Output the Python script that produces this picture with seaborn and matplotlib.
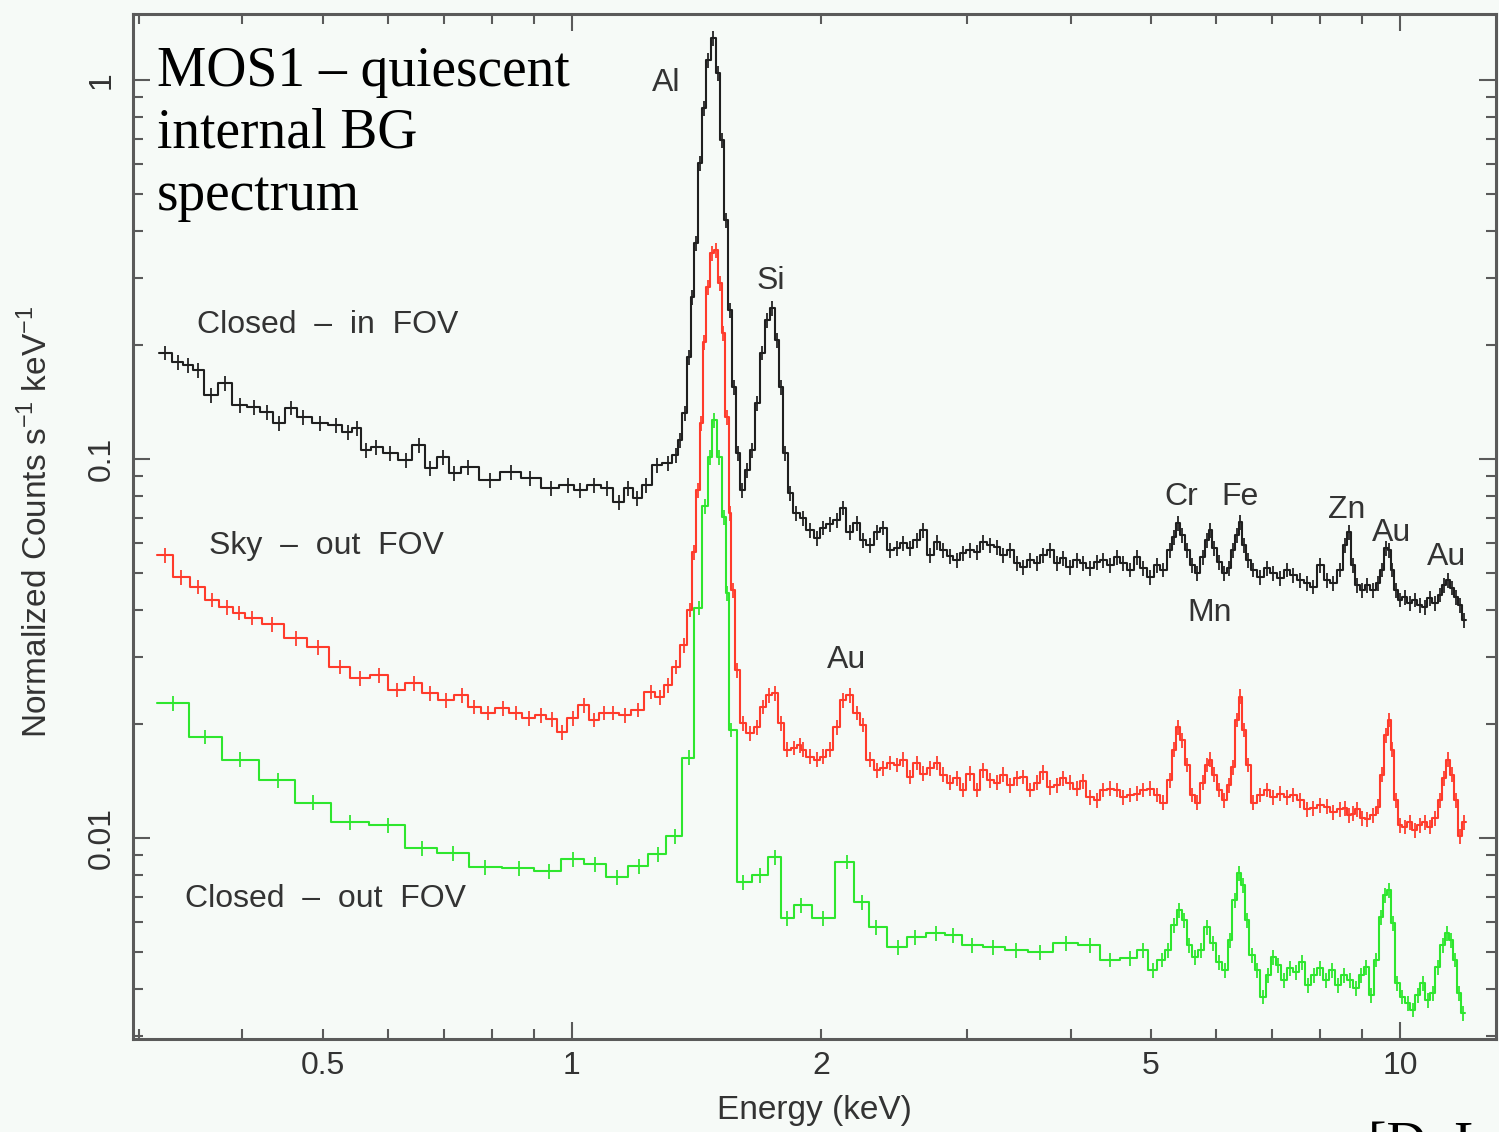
import numpy as np
import pandas as pd
import matplotlib
matplotlib.use("Agg")
import matplotlib.pyplot as plt
import seaborn as sns
from matplotlib.ticker import LogLocator, FuncFormatter, NullFormatter

# ---------------- data ----------------
# shared fine energy grid (keV, bin centres) used by the two upper spectra above ~1.9 keV
energy_hi = [1.901, 1.938, 1.977, 2.010, 2.049, 2.089, 2.125, 2.166, 2.209, 2.246,
             2.290, 2.336, 2.375, 2.422, 2.469, 2.511, 2.560, 2.610, 2.654, 2.707,
             2.760, 2.806, 2.861, 2.917, 2.966, 3.025, 3.084, 3.136, 3.198, 3.261,
             3.316, 3.381, 3.448, 3.506, 3.575, 3.645, 3.706, 3.779, 3.854, 3.917,
             3.994, 4.073, 4.141, 4.223, 4.307, 4.379, 4.465, 4.553, 4.630, 4.720,
             4.814, 4.894, 4.991, 5.088, 5.175, 5.276, 5.335, 5.395, 5.455, 5.532,
             5.609, 5.687, 5.783, 5.848, 5.897, 5.963, 6.046, 6.131, 6.216, 6.286,
             6.356, 6.409, 6.481, 6.553, 6.645, 6.776, 6.909, 7.025, 7.163, 7.304,
             7.427, 7.573, 7.722, 7.852, 8.006, 8.163, 8.301, 8.464, 8.583, 8.679,
             8.776, 8.874, 8.998, 9.124, 9.278, 9.408, 9.513, 9.619, 9.700, 9.781,
             9.891, 10.00, 10.14, 10.28, 10.42, 10.57, 10.72, 10.87, 11.02, 11.18,
             11.30, 11.43, 11.56, 11.68, 11.82, 11.95]

# Closed - in FOV (black)
closed_in_energy_lo = [0.3225, 0.3343, 0.3437, 0.3534, 0.3664, 0.3810, 0.3972, 0.4129, 0.4281, 0.4427,
                       0.4577, 0.4733, 0.4963, 0.5188, 0.5364, 0.5499, 0.5639, 0.5798, 0.6029, 0.6302,
                       0.6534, 0.6739, 0.6987, 0.7205, 0.7490, 0.7962, 0.8439, 0.8899, 0.9432, 0.9890,
                       1.0225, 1.0631, 1.1023, 1.1397, 1.1686, 1.1981, 1.2286, 1.2667, 1.3057, 1.3355,
                       1.3503, 1.3692, 1.3845, 1.3965, 1.4121, 1.4278, 1.4438, 1.4600, 1.4804, 1.5008,
                       1.5176, 1.5346, 1.5517, 1.5692, 1.5867, 1.6044, 1.6270, 1.6497, 1.6728, 1.6962,
                       1.7200, 1.7440, 1.7685, 1.7883, 1.8083, 1.8336, 1.8645]
closed_in_counts_lo = [0.1905, 0.1803, 0.1770, 0.1717, 0.1475, 0.1587, 0.1388, 0.1372, 0.1330, 0.1245,
                       0.1364, 0.1291, 0.1245, 0.1229, 0.1178, 0.1207, 0.1056, 0.1076, 0.1037, 0.0994,
                       0.1089, 0.0947, 0.1012, 0.0918, 0.0953, 0.0880, 0.0924, 0.0891, 0.0838, 0.0854,
                       0.0828, 0.0854, 0.0838, 0.0770, 0.0838, 0.0789, 0.0854, 0.0964, 0.0976, 0.1025,
                       0.1122, 0.1322, 0.1858, 0.2676, 0.3715, 0.6039, 0.8434, 1.129, 1.291, 1.043,
                       0.6947, 0.4272, 0.2472, 0.1549, 0.1037, 0.0828, 0.0935, 0.1056, 0.1405, 0.1905,
                       0.2327, 0.2502, 0.2061, 0.1549, 0.1037, 0.0813, 0.0720]
closed_in_counts_hi = [0.0699, 0.0650, 0.0619, 0.0658, 0.0674, 0.0690, 0.0743, 0.0642, 0.0678, 0.0611,
                       0.0593, 0.0642, 0.0658, 0.0575, 0.0582, 0.0600, 0.0582, 0.0611, 0.0650, 0.0558,
                       0.0604, 0.0575, 0.0555, 0.0541, 0.0565, 0.0575, 0.0568, 0.0604, 0.0593, 0.0586,
                       0.0558, 0.0575, 0.0531, 0.0519, 0.0541, 0.0531, 0.0558, 0.0575, 0.0531, 0.0548,
                       0.0519, 0.0541, 0.0531, 0.0516, 0.0535, 0.0541, 0.0525, 0.0551, 0.0531, 0.0510,
                       0.0551, 0.0516, 0.0488, 0.0525, 0.0510, 0.0575, 0.0622, 0.0678, 0.0630, 0.0575,
                       0.0525, 0.0500, 0.0551, 0.0611, 0.0650, 0.0582, 0.0535, 0.0500, 0.0516, 0.0575,
                       0.0630, 0.0682, 0.0593, 0.0541, 0.0510, 0.0488, 0.0516, 0.0500, 0.0485, 0.0510,
                       0.0494, 0.0479, 0.0471, 0.0460, 0.0525, 0.0479, 0.0471, 0.0510, 0.0593, 0.0642,
                       0.0525, 0.0465, 0.0451, 0.0465, 0.0451, 0.0471, 0.0510, 0.0582, 0.0575, 0.0510,
                       0.0451, 0.0425, 0.0432, 0.0417, 0.0425, 0.0412, 0.0407, 0.0430, 0.0417, 0.0438,
                       0.0465, 0.0479, 0.0457, 0.0432, 0.0412, 0.0376]

# Sky - out FOV (red)
sky_out_energy_lo = [0.3225, 0.3372, 0.3534, 0.3674, 0.3832, 0.3962, 0.4106, 0.4342, 0.4642, 0.4935,
                     0.5245, 0.5546, 0.5847, 0.6146, 0.6445, 0.6739, 0.7046, 0.7366, 0.7614, 0.7916,
                     0.8254, 0.8557, 0.8872, 0.9175, 0.9458, 0.9725, 1.0028, 1.0339, 1.0631, 1.0930,
                     1.1207, 1.1588, 1.2014, 1.2456, 1.2771, 1.3057, 1.3355, 1.3658, 1.3887, 1.4043,
                     1.4200, 1.4319, 1.4438, 1.4600, 1.4761, 1.4926, 1.5092, 1.5220, 1.5390, 1.5517,
                     1.5646, 1.5820, 1.6088, 1.6406, 1.6728, 1.7010, 1.7296, 1.7589, 1.7883, 1.8184,
                     1.8540, 1.8853]
sky_out_counts_lo = [0.0558, 0.0488, 0.0460, 0.0425, 0.0407, 0.0393, 0.0381, 0.0367, 0.0337, 0.0319,
                     0.0283, 0.0264, 0.0269, 0.0246, 0.0256, 0.0241, 0.0231, 0.0238, 0.0222, 0.0214,
                     0.0220, 0.0214, 0.0207, 0.0211, 0.0206, 0.0190, 0.0207, 0.0224, 0.0205, 0.0214,
                     0.0214, 0.0211, 0.0218, 0.0243, 0.0235, 0.0253, 0.0283, 0.0323, 0.0400, 0.0568,
                     0.0828, 0.1245, 0.2036, 0.2843, 0.3497, 0.3560, 0.2913, 0.2150, 0.1291, 0.0720,
                     0.0451, 0.0277, 0.0201, 0.0189, 0.0196, 0.0222, 0.0238, 0.0241, 0.0201, 0.0171,
                     0.0173, 0.0176]
sky_out_counts_hi = [0.0171, 0.0164, 0.0161, 0.0164, 0.0171, 0.0196, 0.0231, 0.0238, 0.0214, 0.0199,
                     0.0161, 0.0151, 0.0153, 0.0158, 0.0156, 0.0161, 0.0145, 0.0158, 0.0148, 0.0153,
                     0.0158, 0.0147, 0.0140, 0.0144, 0.0134, 0.0148, 0.0134, 0.0151, 0.0142, 0.0140,
                     0.0147, 0.0138, 0.0144, 0.0145, 0.0134, 0.0140, 0.0149, 0.0136, 0.0138, 0.0144,
                     0.0140, 0.0135, 0.0141, 0.0128, 0.0126, 0.0134, 0.0135, 0.0134, 0.0128, 0.0130,
                     0.0131, 0.0134, 0.0135, 0.0130, 0.0124, 0.0142, 0.0171, 0.0196, 0.0181, 0.0156,
                     0.0130, 0.0124, 0.0140, 0.0156, 0.0161, 0.0147, 0.0134, 0.0126, 0.0138, 0.0154,
                     0.0205, 0.0236, 0.0193, 0.0156, 0.0124, 0.0130, 0.0134, 0.0128, 0.0131, 0.0128,
                     0.0130, 0.0126, 0.0119, 0.0120, 0.0122, 0.0121, 0.0117, 0.0119, 0.0120, 0.0115,
                     0.0116, 0.0119, 0.0113, 0.0112, 0.0115, 0.0121, 0.0147, 0.0187, 0.0205, 0.0171,
                     0.0126, 0.0108, 0.0107, 0.0110, 0.0105, 0.0108, 0.0110, 0.0107, 0.0113, 0.0126,
                     0.0144, 0.0161, 0.0147, 0.0126, 0.0101, 0.0110]

# Closed - out FOV (green)
closed_out_energy = [0.3298, 0.3604, 0.3972, 0.4414, 0.4866, 0.5393, 0.5995, 0.6590, 0.7182, 0.7851,
                     0.8630, 0.9380, 1.0028, 1.0660, 1.1334, 1.2048, 1.2700, 1.3318, 1.3845, 1.4240,
                     1.4477, 1.4679, 1.4842, 1.5051, 1.5262, 1.5390, 1.5560, 1.6088, 1.6870, 1.7589,
                     1.8184, 1.8906, 2.0096, 2.148, 2.2397, 2.3285, 2.4762, 2.5960, 2.7521, 2.8850,
                     3.0416, 3.2250, 3.4382, 3.6755, 3.9501, 4.2232, 4.4652, 4.7203, 4.894, 5.030,
                     5.160, 5.247, 5.335, 5.410, 5.486, 5.563, 5.656, 5.751, 5.848, 5.946,
                     6.046, 6.148, 6.233, 6.320, 6.391, 6.463, 6.527, 6.627, 6.720, 6.833,
                     6.929, 7.025, 7.124, 7.243, 7.365, 7.488, 7.615, 7.743, 7.873, 8.006,
                     8.140, 8.277, 8.417, 8.559, 8.703, 8.849, 8.974, 9.100, 9.227, 9.355,
                     9.486, 9.592, 9.700, 9.808, 9.917, 10.06, 10.22, 10.37, 10.51, 10.66,
                     10.81, 10.96, 11.11, 11.27, 11.40, 11.52, 11.65, 11.78, 11.92]
closed_out_counts = [0.0227, 0.0185, 0.0161, 0.0142, 0.0124, 0.0110, 0.0108, 0.00941, 0.00913, 0.00839,
                     0.00833, 0.00818, 0.00880, 0.00854, 0.00789, 0.00844, 0.00907, 0.0101, 0.0163, 0.0405,
                     0.0752, 0.1012, 0.1267, 0.1012, 0.0703, 0.0443, 0.0193, 0.00766, 0.00799, 0.00891,
                     0.00615, 0.00665, 0.00615, 0.00865, 0.00678, 0.00582, 0.00516, 0.00548, 0.00561, 0.00555,
                     0.00522, 0.00516, 0.00506, 0.00500, 0.00528, 0.00522, 0.00477, 0.00482, 0.00506, 0.00448,
                     0.00477, 0.00506, 0.00589, 0.00646, 0.00608, 0.00522, 0.00485, 0.00506, 0.00582, 0.00528,
                     0.00471, 0.00448, 0.00538, 0.00686, 0.00809, 0.00752, 0.00608, 0.00491, 0.00448, 0.00381,
                     0.00435, 0.00485, 0.00462, 0.00422, 0.00454, 0.00443, 0.00471, 0.00409, 0.00435, 0.00454,
                     0.00422, 0.00448, 0.00409, 0.00435, 0.00422, 0.00402, 0.00435, 0.00457, 0.00385, 0.00477,
                     0.00619, 0.00707, 0.00729, 0.00597, 0.00414, 0.00381, 0.00367, 0.00352, 0.00385, 0.00414,
                     0.00374, 0.00390, 0.00457, 0.00522, 0.00561, 0.00538, 0.00477, 0.00390, 0.00345]

series_names = ["Closed  \u2013  in  FOV", "Sky  \u2013  out  FOV", "Closed  \u2013  out  FOV"]
x_tick_values = [0.5, 1, 2, 5, 10]
x_tick_labels = ["0.5", "1", "2", "5", "10"]
y_tick_values = [0.01, 0.1, 1]
y_tick_labels = ["0.01", "0.1", "1"]

line_labels = ["Al", "Si", "Au", "Cr", "Fe", "Mn", "Zn", "Au", "Au"]
line_label_energy = [1.30, 1.739, 2.148, 5.44, 6.41, 5.89, 8.63, 9.76, 11.37]
line_label_counts = [0.982, 0.295, 0.0295, 0.0792, 0.0792, 0.0393, 0.0733, 0.0638, 0.0551]

# ---------------- style ----------------
sns.set_theme(style="ticks")
plt.rcParams["font.family"] = ["Liberation Sans", "DejaVu Sans"]
plt.rcParams["mathtext.fontset"] = "custom"
plt.rcParams["mathtext.rm"] = "Liberation Sans"
BG = "#f6faf7"
AX_COL = "#5a5a5a"
TXT = "#333333"
C_BLACK = "#1f1f1f"
C_RED = "#ff3b2b"
C_GREEN = "#2ee62e"

fig = plt.figure(figsize=(14.99, 11.32), dpi=100, facecolor=BG)
ax = fig.add_axes([133 / 1499, 93 / 1132, 1363 / 1499, 1025 / 1132])
ax.set_facecolor(BG)


def edges_from_centres(c):
    c = np.asarray(c, float)
    mid = np.sqrt(c[:-1] * c[1:])
    return np.concatenate([[c[0] ** 2 / mid[0]], mid, [c[-1] ** 2 / mid[-1]]])


def draw_spectrum(energy, counts, color, rel_err, lw):
    e = np.asarray(energy, float)
    y = np.asarray(counts, float)
    df = pd.DataFrame({"E": edges_from_centres(e), "C": np.append(y, y[-1])})
    sns.lineplot(data=df, x="E", y="C", drawstyle="steps-post", estimator=None,
                 sort=False, color=color, lw=lw, ax=ax)
    ax.errorbar(e, y, yerr=y * rel_err, fmt="none", ecolor=color, elinewidth=lw * 0.85, capsize=0)


draw_spectrum(closed_out_energy, closed_out_counts, C_GREEN, 0.045, 1.5)
draw_spectrum(sky_out_energy_lo + energy_hi, sky_out_counts_lo + sky_out_counts_hi, C_RED, 0.045, 1.5)
draw_spectrum(closed_in_energy_lo + energy_hi, closed_in_counts_lo + closed_in_counts_hi, C_BLACK, 0.045, 1.5)

ax.set_xscale("log")
ax.set_yscale("log")
ax.set_xlim(0.295, 13.06)
ax.set_ylim(0.00295, 1.493)

# ticks
xlab_map = dict(zip(x_tick_values, x_tick_labels))
ylab_map = dict(zip(y_tick_values, y_tick_labels))


def fmt_from(mapping):
    def f(v, pos):
        for k, s in mapping.items():
            if abs(v - k) <= 1e-6 * k:
                return s
        return ""
    return FuncFormatter(f)


ax.xaxis.set_major_locator(LogLocator(base=10, subs=(1.0,), numticks=10))
ax.xaxis.set_minor_locator(LogLocator(base=10, subs=np.arange(2, 10), numticks=30))
ax.xaxis.set_major_formatter(fmt_from(xlab_map))
ax.xaxis.set_minor_formatter(fmt_from(xlab_map))
ax.yaxis.set_major_locator(LogLocator(base=10, subs=(1.0,), numticks=10))
ax.yaxis.set_minor_locator(LogLocator(base=10, subs=np.arange(2, 10), numticks=30))
ax.yaxis.set_major_formatter(fmt_from(ylab_map))
ax.yaxis.set_minor_formatter(NullFormatter())

ax.tick_params(which="both", direction="in", top=True, right=True, color=AX_COL,
               labelcolor=TXT, labelsize=23)
ax.tick_params(which="major", length=12, width=1.5)
ax.tick_params(which="minor", length=7, width=1.5)
ax.tick_params(axis="x", which="both", pad=9)
ax.tick_params(axis="y", which="both", pad=12)
for lab in ax.get_yticklabels():
    lab.set_rotation(90)
    lab.set_va("center")
    lab.set_ha("right")

for s in ax.spines.values():
    s.set_color(AX_COL)
    s.set_linewidth(2.2)

ax.set_xlabel("Energy (keV)", fontsize=24, color=TXT)
ax.set_ylabel(r"Normalized Counts s$^{-1}$ keV$^{-1}$", fontsize=24, color=TXT)
ax.xaxis.set_label_coords(0.5, -0.055)
ax.yaxis.set_label_coords(-0.058, 0.505)

# series labels
ax.text(0.3522, 0.226, series_names[0], fontsize=23, color=TXT, ha="left", va="center")
ax.text(0.3643, 0.0589, series_names[1], fontsize=23, color=TXT, ha="left", va="center")
ax.text(0.3409, 0.00690, series_names[2], fontsize=23, color=TXT, ha="left", va="center")

for lab, e, c in zip(line_labels, line_label_energy, line_label_counts):
    ax.text(e, c, lab, fontsize=23, color=TXT, ha="center", va="center")

ax.text(0.0176, 0.969, "MOS1 \u2013 quiescent\ninternal BG\nspectrum", transform=ax.transAxes,
        fontsize=40, family=["Liberation Serif", "DejaVu Serif"], color="black",
        ha="left", va="top", linespacing=1.25)

# source credit, partly cut off at the lower edge as in the reference
fig.text(1368 / 1499, 1 - 1121 / 1132, "[D. L", fontsize=40,
         family=["Liberation Serif", "DejaVu Serif"], color="black", ha="left", va="top")

fig.savefig("out.png", dpi=100, facecolor=BG)
